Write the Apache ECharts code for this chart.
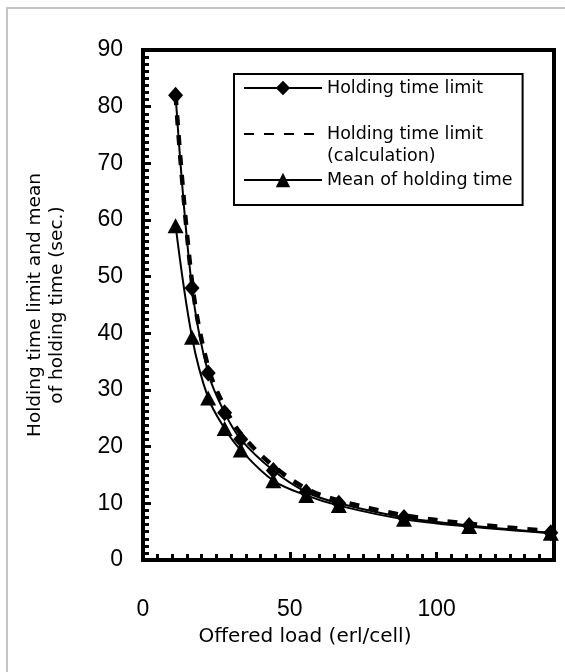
<!DOCTYPE html>
<html>
<head>
<meta charset="utf-8">
<script src="https://cdn.jsdelivr.net/npm/echarts@6/dist/echarts.min.js"></script>
<style>
  html, body { margin: 0; padding: 0; background: #fff; overflow: hidden; width: 565px; height: 672px; position: relative; }
  #frame { position: absolute; left: 6px; top: 7px; width: 620px; height: 720px;
           border-top: 2px solid #c4c4c4; border-left: 2px solid #c4c4c4; }
  #chart { position: absolute; left: 0; top: 0; width: 565px; height: 672px; }
</style>
</head>
<body>
<div id="frame"></div>
<div id="chart"></div>
<script>
// Offered load (erl/cell)
const offeredLoad = [11.1, 16.7, 22.2, 27.8, 33.3, 44.4, 55.6, 66.7, 88.9, 111.1, 138.9];
// Holding time limit (sec.)
const holdingLimit = [82, 48, 33, 26, 21.3, 15.8, 12, 10, 7.5, 6.1, 4.8];
// Holding time limit (calculation)
const holdingLimitCalc = [82, 49, 34, 27, 22.3, 16.6, 12.6, 10.5, 7.9, 6.4, 5.1];
// Mean of holding time
const meanHolding = [59, 39.3, 28.6, 23.2, 19.4, 14, 11.4, 9.6, 7.2, 5.9, 4.7];

const seriesNames = ['Holding time limit', 'Holding time limit\n(calculation)', 'Mean of holding time'];
const xTicks = [0, 50, 100];
const yTicks = [0, 10, 20, 30, 40, 50, 60, 70, 80, 90];

const pairs = (xs, ys) => xs.map((x, i) => [x, ys[i]]);

const chart = echarts.init(document.getElementById('chart'), null, { renderer: 'canvas' });
const titleFont = '"DejaVu Sans", "Liberation Sans", sans-serif';
const tickFont = '"Liberation Sans", Arial, sans-serif';

chart.setOption({
  animation: false,
  backgroundColor: 'transparent',
  grid: {
    left: 143, right: 11, top: 50, bottom: 112,
    show: true, borderColor: '#000', borderWidth: 4, backgroundColor: 'transparent'
  },
  legend: {
    orient: 'vertical',
    left: 234, top: 74,
    width: 290,
    padding: [3, 10, 14, 9],
    itemGap: 2,
    itemWidth: 78,
    itemHeight: 18,
    borderColor: '#000',
    borderWidth: 2,
    backgroundColor: '#fff',
    textStyle: { fontFamily: titleFont, fontSize: 17.5, lineHeight: 22, color: '#000' },
    formatter: name => (name === seriesNames[1] ? '\n' + name : name),
    data: [
      { name: seriesNames[0] },
      { name: seriesNames[1], itemStyle: { opacity: 0 } },
      { name: seriesNames[2] }
    ]
  },
  xAxis: {
    type: 'value',
    min: 0, max: 140, interval: 50,
    name: 'Offered load (erl/cell)',
    nameLocation: 'middle',
    nameGap: 67,
    nameTextStyle: { fontFamily: titleFont, fontSize: 20, color: '#000', padding: [0, 87, 0, 0] },
    axisLine: { show: true, lineStyle: { color: '#000', width: 4 } },
    axisTick: { show: true, inside: true, length: 8, lineStyle: { color: '#000', width: 3 } },
    minorTick: { show: true, splitNumber: 10, length: 6, lineStyle: { color: '#000', width: 3 } },
    axisLabel: {
      margin: 38, fontFamily: tickFont, fontSize: 23, color: '#000',
      formatter: v => (xTicks.includes(v) ? String(v) : '')
    },
    splitLine: { show: false }
  },
  yAxis: {
    type: 'value',
    min: 0, max: 90, interval: 10,
    name: 'Holding time limit and mean\nof holding time (sec.)',
    nameLocation: 'middle',
    nameRotate: 90,
    nameGap: 75,
    nameTextStyle: { fontFamily: titleFont, fontSize: 18.5, lineHeight: 22, color: '#000' },
    axisLine: { show: true, lineStyle: { color: '#000', width: 4 } },
    axisTick: { show: true, inside: true, length: 8, lineStyle: { color: '#000', width: 3 } },
    minorTick: { show: true, splitNumber: 8, length: 6, lineStyle: { color: '#000', width: 3 } },
    axisLabel: {
      margin: 20, fontFamily: tickFont, fontSize: 23, color: '#000',
      formatter: v => (yTicks.includes(v) ? String(v) : '')
    },
    splitLine: { show: false }
  },
  series: [
    {
      name: seriesNames[1],
      type: 'line',
      data: pairs(offeredLoad, holdingLimitCalc),
      smooth: 0.35,
      symbol: 'none',
      z: 2,
      lineStyle: { color: '#000', width: 4.5, type: [10, 10] },
      itemStyle: { color: '#000' }
    },
    {
      name: seriesNames[0],
      type: 'line',
      data: pairs(offeredLoad, holdingLimit),
      smooth: 0.35,
      symbol: 'diamond',
      symbolSize: [15, 17],
      z: 3,
      lineStyle: { color: '#000', width: 2 },
      itemStyle: { color: '#000' }
    },
    {
      name: seriesNames[2],
      type: 'line',
      data: pairs(offeredLoad, meanHolding),
      smooth: 0.35,
      symbol: 'triangle',
      symbolSize: [16, 15],
      z: 3,
      lineStyle: { color: '#000', width: 2 },
      itemStyle: { color: '#000' }
    }
  ]
});
</script>
</body>
</html>
